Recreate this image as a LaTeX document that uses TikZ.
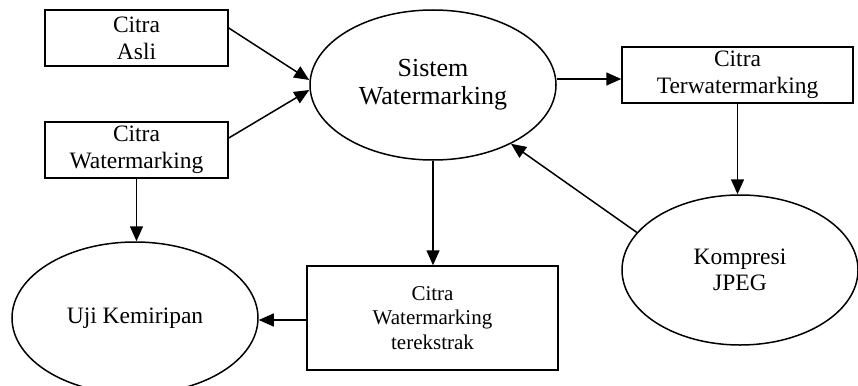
\documentclass[tikz,border=0pt]{standalone}
\usepackage{fontspec}
\setmainfont{Liberation Serif}
\usetikzlibrary{shapes.geometric, arrows.meta}

\begin{document}
\begin{tikzpicture}[x=1pt, y=-1pt, line width=1.5pt,
  kotak/.style={draw, rectangle, align=center, inner sep=0pt, font=\fontsize{23.5}{27}\selectfont},
  elips/.style={draw, ellipse, align=center, inner sep=0pt, font=\fontsize{23.5}{27}\selectfont},
  panah/.style={-{Triangle[length=15pt, width=13pt]}}]
\useasboundingbox (0,0) rectangle (858,385);
\node[kotak, minimum width=183pt, minimum height=56pt] (asli) at (136.5,38) {Citra\\Asli};
\node[kotak, minimum width=183pt, minimum height=56pt] (wm) at (136.5,150) {Citra\\Watermarking};
\node[elips, minimum width=246pt, minimum height=150pt, font=\fontsize{26}{28}\selectfont] (sistem) at (433,85) {Sistem\\Watermarking};
\node[kotak, minimum width=231pt, minimum height=56pt] (terw) at (737.5,75) {Citra\\Terwatermarking};
\node[elips, minimum width=236pt, minimum height=150pt, font=\fontsize{23.5}{26}\selectfont] (kompresi) at (740,270) {Kompresi\\JPEG};
\node[kotak, minimum width=251pt, minimum height=104pt, font=\fontsize{21}{24.5}\selectfont, text depth=0pt] (ekstrak) at (432.5,318) {Citra\\Watermarking\\terekstrak};
\node[elips, minimum width=246pt, minimum height=152pt] (uji) at (135,318) {Uji Kemiripan};
\coordinate (s1) at ([yshift=6pt]sistem.east);
\draw[panah] ([yshift=10pt]asli.east) -- ([yshift=5pt]sistem.west);
\draw[panah] ([yshift=12pt]wm.east) -- ([yshift=-5pt]sistem.west);
\draw[panah] (s1) -- (s1 -| terw.west);
\draw[panah] (terw.south) -- (terw.south |- kompresi.north);
\draw[panah] (kompresi.160) -- (sistem.-37);
\draw[panah] (sistem.south) -- (sistem.south |- ekstrak.north);
\draw[panah] ([yshift=-2pt]ekstrak.west) -- ([yshift=-2pt]uji.east);
\draw[panah] (wm.south) -- (wm.south |- uji.north);
\end{tikzpicture}
\end{document}
